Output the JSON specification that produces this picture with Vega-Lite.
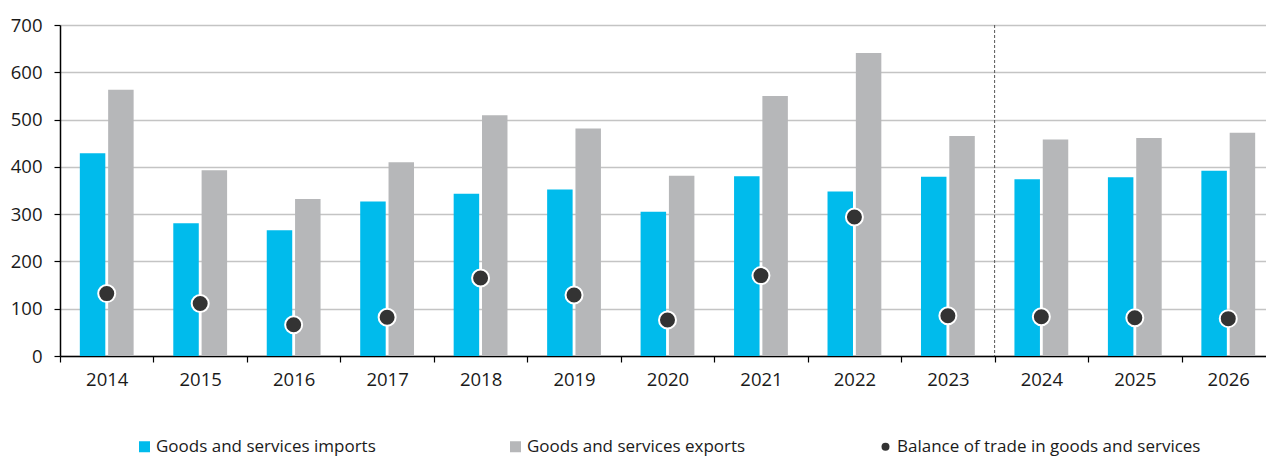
{
  "$schema": "https://vega.github.io/schema/vega-lite/v6.json",
  "width": 1215,
  "height": 331,
  "autosize": {"type": "none"},
  "padding": {"left": 60, "top": 25, "right": -9, "bottom": 102},
  "config": {
    "view": {"stroke": null},
    "font": "Open Sans",
    "axis": {"labelColor": "#1a1a1a", "labelFontSize": 18.5, "titleFontSize": 17}
  },
  "data": {
    "values": [
      {"year": "2014", "series": "Goods and services imports", "value": 429},
      {"year": "2014", "series": "Goods and services exports", "value": 563},
      {"year": "2014", "series": "Balance of trade in goods and services", "value": 132},
      {"year": "2015", "series": "Goods and services imports", "value": 281},
      {"year": "2015", "series": "Goods and services exports", "value": 393},
      {"year": "2015", "series": "Balance of trade in goods and services", "value": 111},
      {"year": "2016", "series": "Goods and services imports", "value": 266},
      {"year": "2016", "series": "Goods and services exports", "value": 332},
      {"year": "2016", "series": "Balance of trade in goods and services", "value": 66},
      {"year": "2017", "series": "Goods and services imports", "value": 327},
      {"year": "2017", "series": "Goods and services exports", "value": 410},
      {"year": "2017", "series": "Balance of trade in goods and services", "value": 82},
      {"year": "2018", "series": "Goods and services imports", "value": 343},
      {"year": "2018", "series": "Goods and services exports", "value": 509},
      {"year": "2018", "series": "Balance of trade in goods and services", "value": 165},
      {"year": "2019", "series": "Goods and services imports", "value": 352},
      {"year": "2019", "series": "Goods and services exports", "value": 481},
      {"year": "2019", "series": "Balance of trade in goods and services", "value": 129},
      {"year": "2020", "series": "Goods and services imports", "value": 305},
      {"year": "2020", "series": "Goods and services exports", "value": 381},
      {"year": "2020", "series": "Balance of trade in goods and services", "value": 76},
      {"year": "2021", "series": "Goods and services imports", "value": 380},
      {"year": "2021", "series": "Goods and services exports", "value": 550},
      {"year": "2021", "series": "Balance of trade in goods and services", "value": 170},
      {"year": "2022", "series": "Goods and services imports", "value": 348},
      {"year": "2022", "series": "Goods and services exports", "value": 641},
      {"year": "2022", "series": "Balance of trade in goods and services", "value": 294},
      {"year": "2023", "series": "Goods and services imports", "value": 379},
      {"year": "2023", "series": "Goods and services exports", "value": 465},
      {"year": "2023", "series": "Balance of trade in goods and services", "value": 85},
      {"year": "2024", "series": "Goods and services imports", "value": 374},
      {"year": "2024", "series": "Goods and services exports", "value": 458},
      {"year": "2024", "series": "Balance of trade in goods and services", "value": 83},
      {"year": "2025", "series": "Goods and services imports", "value": 378},
      {"year": "2025", "series": "Goods and services exports", "value": 461},
      {"year": "2025", "series": "Balance of trade in goods and services", "value": 81},
      {"year": "2026", "series": "Goods and services imports", "value": 392},
      {"year": "2026", "series": "Goods and services exports", "value": 472},
      {"year": "2026", "series": "Balance of trade in goods and services", "value": 79}
    ]
  },
  "layer": [
    {
      "transform": [{"filter": "datum.series !== 'Balance of trade in goods and services'"}],
      "mark": {"type": "bar"},
      "encoding": {
        "x": {
          "field": "year",
          "type": "ordinal",
          "scale": {"paddingInner": 0, "paddingOuter": 0},
          "axis": {
            "title": null,
            "labelAngle": 0,
            "tickBand": "extent",
            "domainColor": "#000000",
            "domainWidth": 1.5,
            "tickColor": "#000000",
            "tickWidth": 1.2,
            "tickSize": 6,
            "labelPadding": 8,
            "grid": false
          }
        },
        "xOffset": {
          "field": "series",
          "type": "nominal",
          "scale": {"domain": ["Goods and services imports", "Goods and services exports"], "paddingInner": 0.1, "paddingOuter": 0.7}
        },
        "y": {
          "field": "value",
          "type": "quantitative",
          "scale": {"domain": [0, 700]},
          "axis": {
            "title": null,
            "values": [0, 100, 200, 300, 400, 500, 600, 700],
            "grid": true,
            "gridColor": "#c4c4c4",
            "gridWidth": 1.3,
            "domainColor": "#000000",
            "domainWidth": 1.5,
            "tickColor": "#000000",
            "tickWidth": 1.2,
            "tickSize": 6,
            "labelPadding": 12
          }
        },
        "color": {
          "field": "series",
          "type": "nominal",
          "scale": {
            "domain": ["Goods and services imports", "Goods and services exports", "Balance of trade in goods and services"],
            "range": ["#00BBEC", "#B6B7B9", "#333333"]
          },
          "legend": {
            "title": null,
            "orient": "none",
            "legendX": 76,
            "legendY": 413,
            "padding": 0,
            "direction": "horizontal",
            "columnPadding": 131,
            "labelFontSize": 17,
            "labelLimit": 0,
            "labelColor": "#1a1a1a",
            "symbolSize": 121,
            "labelOffset": 3,
            "encode": {
              "symbols": {
                "update": {
                  "shape": {"signal": "datum.value === 'Balance of trade in goods and services' ? 'circle' : 'square'"},
                  "size": {"signal": "datum.value === 'Balance of trade in goods and services' ? 64 : 121"},
                  "strokeWidth": {"value": 0},
                  "opacity": {"value": 1}
                }
              }
            }
          }
        }
      }
    },
    {
      "transform": [{"filter": "datum.series === 'Balance of trade in goods and services'"}],
      "mark": {"type": "point", "filled": true, "size": 289, "stroke": "#ffffff", "strokeWidth": 2, "opacity": 1},
      "encoding": {
        "x": {"field": "year", "type": "ordinal"},
        "y": {"field": "value", "type": "quantitative"},
        "color": {"field": "series", "type": "nominal"}
      }
    },
    {
      "data": {"values": [{"year": "2024"}]},
      "mark": {"type": "rule", "strokeDash": [3, 2], "color": "#555555", "strokeWidth": 1},
      "encoding": {
        "x": {"field": "year", "type": "ordinal", "bandPosition": 0}
      }
    }
  ]
}
